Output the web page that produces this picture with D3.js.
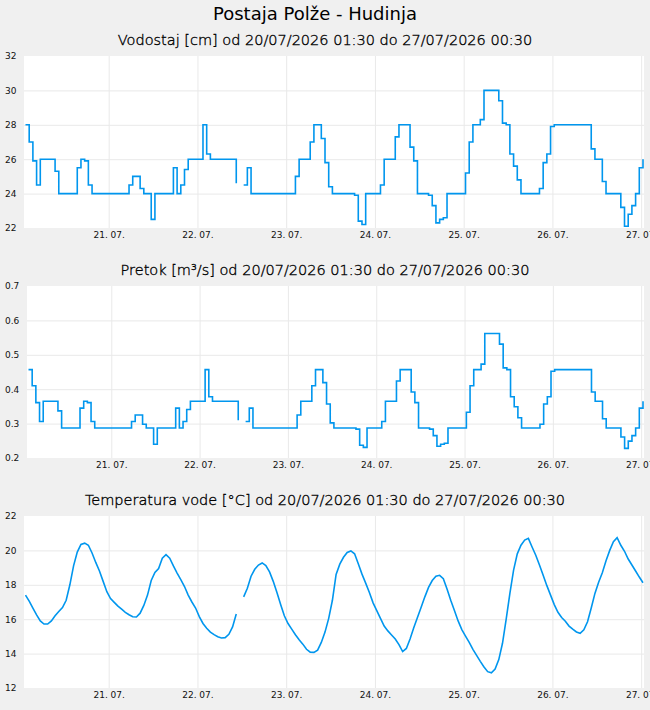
<!DOCTYPE html>
<html><head><meta charset="utf-8">
<script src="https://cdn.jsdelivr.net/npm/d3@7"></script>
<style>
html,body{margin:0;padding:0;background:#f0f0f0;}
svg{display:block;font-family:"DejaVu Sans",sans-serif;}
</style></head><body>
<svg id="chart" width="650" height="710"></svg>
<script>
const chartTitle = "Postaja Polže - Hudinja";
const panelTitles = [
  "Vodostaj [cm] od 20/07/2026 01:30 do 27/07/2026 00:30",
  "Pretok [m³/s] od 20/07/2026 01:30 do 27/07/2026 00:30",
  "Temperatura vode [°C] od 20/07/2026 01:30 do 27/07/2026 00:30"
];
const startTime = new Date(2026, 6, 20, 1, 30);
const endTime = new Date(2026, 6, 27, 0, 30);
const dayTicks = [21, 22, 23, 24, 25, 26, 27];

// hourly values from 20.07. 01:30 (null = missing)
const vodostaj = [
  28, 27, 25.9, 24.5, 26, 26, 26, 26, 25.3, 24, 24, 24,
  24, 24, 25.5, 26, 25.9, 24.5, 24, 24, 24, 24, 24, 24,
  24, 24, 24, 24, 24.5, 25, 25, 24.3, 24, 24, 22.5, 24,
  24, 24, 24, 24, 25.5, 24, 24.5, 25.4, 26, 26, 26, 26,
  28, 26.3, 26, 26, 26, 26, 26, 26, 26, 24.6, null, 24.5,
  25.5, 24, 24, 24, 24, 24, 24, 24, 24, 24, 24, 24,
  24, 25, 26, 26, 26, 27, 28, 28, 27.2, 25.8, 24.4, 24,
  24, 24, 24, 24, 24, 23.9, 22.4, 22.2, 24, 24, 24, 24,
  24.5, 26, 26, 26, 27.3, 28, 28, 28, 26.7, 25.9, 24, 24,
  24, 23.9, 23.3, 22.3, 22.5, 22.6, 24, 24, 24, 24, 24, 25.2,
  27, 28, 28, 28.3, 30, 30, 30, 30, 29.4, 28.1, 28, 26.3,
  25.6, 24.8, 24, 24, 24, 24, 24, 24.3, 25.8, 26.3, 27.9, 28,
  28, 28, 28, 28, 28, 28, 28, 28, 28, 26.6, 26, 26,
  24.7, 24, 24, 24, 24, 23.2, 22.1, 22.8, 23.3, 24, 25.5, 26
];
const pretok = [
  0.457, 0.41, 0.361, 0.306, 0.365, 0.365, 0.365, 0.365, 0.337, 0.287, 0.287, 0.287,
  0.287, 0.287, 0.345, 0.365, 0.361, 0.306, 0.287, 0.287, 0.287, 0.287, 0.287, 0.287,
  0.287, 0.287, 0.287, 0.287, 0.306, 0.325, 0.325, 0.298, 0.287, 0.287, 0.240, 0.287,
  0.287, 0.287, 0.287, 0.287, 0.345, 0.287, 0.306, 0.341, 0.365, 0.365, 0.365, 0.365,
  0.457, 0.378, 0.365, 0.365, 0.365, 0.365, 0.365, 0.365, 0.365, 0.310, null, 0.306,
  0.345, 0.287, 0.287, 0.287, 0.287, 0.287, 0.287, 0.287, 0.287, 0.287, 0.287, 0.287,
  0.287, 0.325, 0.365, 0.365, 0.365, 0.41, 0.457, 0.457, 0.419, 0.357, 0.302, 0.287,
  0.287, 0.287, 0.287, 0.287, 0.287, 0.284, 0.237, 0.231, 0.287, 0.287, 0.287, 0.287,
  0.306, 0.365, 0.365, 0.365, 0.424, 0.457, 0.457, 0.457, 0.392, 0.361, 0.287, 0.287,
  0.287, 0.284, 0.265, 0.234, 0.240, 0.243, 0.287, 0.287, 0.287, 0.287, 0.287, 0.333,
  0.41, 0.457, 0.457, 0.473, 0.562, 0.562, 0.562, 0.562, 0.531, 0.462, 0.457, 0.378,
  0.349, 0.317, 0.287, 0.287, 0.287, 0.287, 0.287, 0.298, 0.357, 0.378, 0.452, 0.457,
  0.457, 0.457, 0.457, 0.457, 0.457, 0.457, 0.457, 0.457, 0.457, 0.392, 0.365, 0.365,
  0.314, 0.287, 0.287, 0.287, 0.287, 0.261, 0.228, 0.249, 0.265, 0.287, 0.345, 0.365
];
const temperatura = [
  17.4, 17.05, 16.65, 16.25, 15.9, 15.72, 15.72, 15.9, 16.2, 16.45, 16.68, 17.1,
  18.0, 19.1, 19.9, 20.35, 20.42, 20.3, 19.85, 19.3, 18.8, 18.2, 17.6, 17.2,
  16.98, 16.76, 16.58, 16.4, 16.26, 16.14, 16.13, 16.35, 16.8, 17.4, 18.25, 18.72,
  18.95, 19.55, 19.75, 19.55, 19.1, 18.68, 18.3, 17.9, 17.4, 17.0, 16.65, 16.15,
  15.75, 15.47, 15.25, 15.1, 14.98, 14.91, 14.93, 15.12, 15.55, 16.3, null, 17.3,
  17.8, 18.5, 18.9, 19.15, 19.27, 19.12, 18.75, 18.2, 17.55, 16.85, 16.2, 15.75,
  15.42, 15.1, 14.8, 14.55, 14.25, 14.08, 14.07, 14.2, 14.65, 15.25, 16.05, 17.1,
  18.6, 19.2, 19.6, 19.88, 19.97, 19.8, 19.22, 18.62, 18.1, 17.55, 16.95, 16.5,
  16.05, 15.6, 15.32, 15.08, 14.85, 14.52, 14.12, 14.3, 14.85, 15.5, 16.1, 16.7,
  17.3, 17.85, 18.25, 18.5, 18.55, 18.35, 17.75, 17.1, 16.5, 15.9, 15.4, 15.02,
  14.65, 14.25, 13.9, 13.55, 13.22, 12.95, 12.88, 13.1, 13.65, 14.6, 16.0, 17.5,
  18.85, 19.8, 20.3, 20.6, 20.7, 20.2, 19.72, 19.15, 18.55, 17.95, 17.4, 16.85,
  16.4, 16.1, 15.88, 15.6, 15.42, 15.26, 15.18, 15.38, 15.85, 16.65, 17.5, 18.15,
  18.7, 19.4, 20.0, 20.5, 20.74, 20.3, 19.95, 19.5, 19.15, 18.8, 18.45, 18.12
];
const yTicksVodostaj = [22, 24, 26, 28, 30, 32];
const yTicksPretok = [0.2, 0.3, 0.4, 0.5, 0.6, 0.7];
const yTicksTemperatura = [12, 14, 16, 18, 20, 22];

const svg = d3.select("#chart");
const lineColor = "#0096ee";
const gridColor = "#e9e9e9";
const plotRight = 643;

svg.append("text").attr("x", 315).attr("y", 20).attr("text-anchor", "middle")
  .attr("font-size", 18).attr("fill", "#000").text(chartTitle);

const panels = [
  {values: vodostaj, ticks: yTicksVodostaj, fmt: d3.format("d"), top: 56, left: 25.5, curve: d3.curveStepAfter},
  {values: pretok, ticks: yTicksPretok, fmt: d3.format(".1f"), top: 286, left: 28.5, curve: d3.curveStepAfter},
  {values: temperatura, ticks: yTicksTemperatura, fmt: d3.format("d"), top: 516, left: 25.5, curve: d3.curveLinear}
];
const panelHeight = 172;
const tickDates = dayTicks.map(d => new Date(2026, 6, d));

panels.forEach((p, i) => {
  const data = p.values.map((v, k) => ({t: d3.timeHour.offset(startTime, k), v}));
  const x = d3.scaleTime().domain([startTime, endTime]).range([p.left, plotRight]);
  const y = d3.scaleLinear().domain([p.ticks[0], p.ticks[p.ticks.length - 1]])
    .range([p.top + panelHeight, p.top]);
  const g = svg.append("g");

  g.append("text").attr("x", 325).attr("y", p.top - 11).attr("text-anchor", "middle")
    .attr("font-size", 14.5).attr("font-weight", 300).attr("fill", "#000")
    .attr("stroke", "#000").attr("stroke-width", 0.35).text(panelTitles[i]);

  g.append("rect").attr("x", p.left - 1.5).attr("y", p.top)
    .attr("width", 644 - (p.left - 1.5)).attr("height", panelHeight).attr("fill", "#fff");

  // horizontal grid
  g.append("g").attr("transform", `translate(${p.left - 1.5},0)`)
    .call(d3.axisLeft(y).tickValues(p.ticks.slice(1, -1)).tickSize(-(644 - p.left + 1.5)).tickFormat(""))
    .call(s => s.select(".domain").remove())
    .call(s => s.selectAll("line").attr("stroke", gridColor));
  // vertical grid
  g.append("g").attr("transform", `translate(0,${p.top + panelHeight})`)
    .call(d3.axisBottom(x).tickValues(tickDates).tickSize(-panelHeight).tickFormat(""))
    .call(s => s.select(".domain").remove())
    .call(s => s.selectAll("line").attr("stroke", gridColor));

  // x labels
  g.append("g").attr("transform", `translate(0,${p.top + panelHeight})`)
    .call(d3.axisBottom(x).tickValues(tickDates).tickSize(0).tickPadding(4)
      .tickFormat(d3.timeFormat("%d. %m.")))
    .call(s => s.select(".domain").remove())
    .call(s => s.selectAll("text").attr("font-size", 9).attr("fill", "#111")
      .attr("font-family", "DejaVu Sans"));

  // y labels
  g.append("g")
    .call(d3.axisLeft(y).tickValues(p.ticks).tickSize(0).tickFormat(p.fmt))
    .call(s => s.select(".domain").remove())
    .call(s => s.selectAll("text").attr("x", 5).attr("text-anchor", "start")
      .attr("font-size", 9).attr("fill", "#111").attr("font-family", "DejaVu Sans"));

  const line = d3.line().defined(d => d.v != null)
    .x(d => x(d.t)).y(d => y(d.v)).curve(p.curve);
  g.append("path").datum(data).attr("d", line).attr("fill", "none")
    .attr("stroke", lineColor).attr("stroke-width", 1.6);
});
</script>
</body></html>
